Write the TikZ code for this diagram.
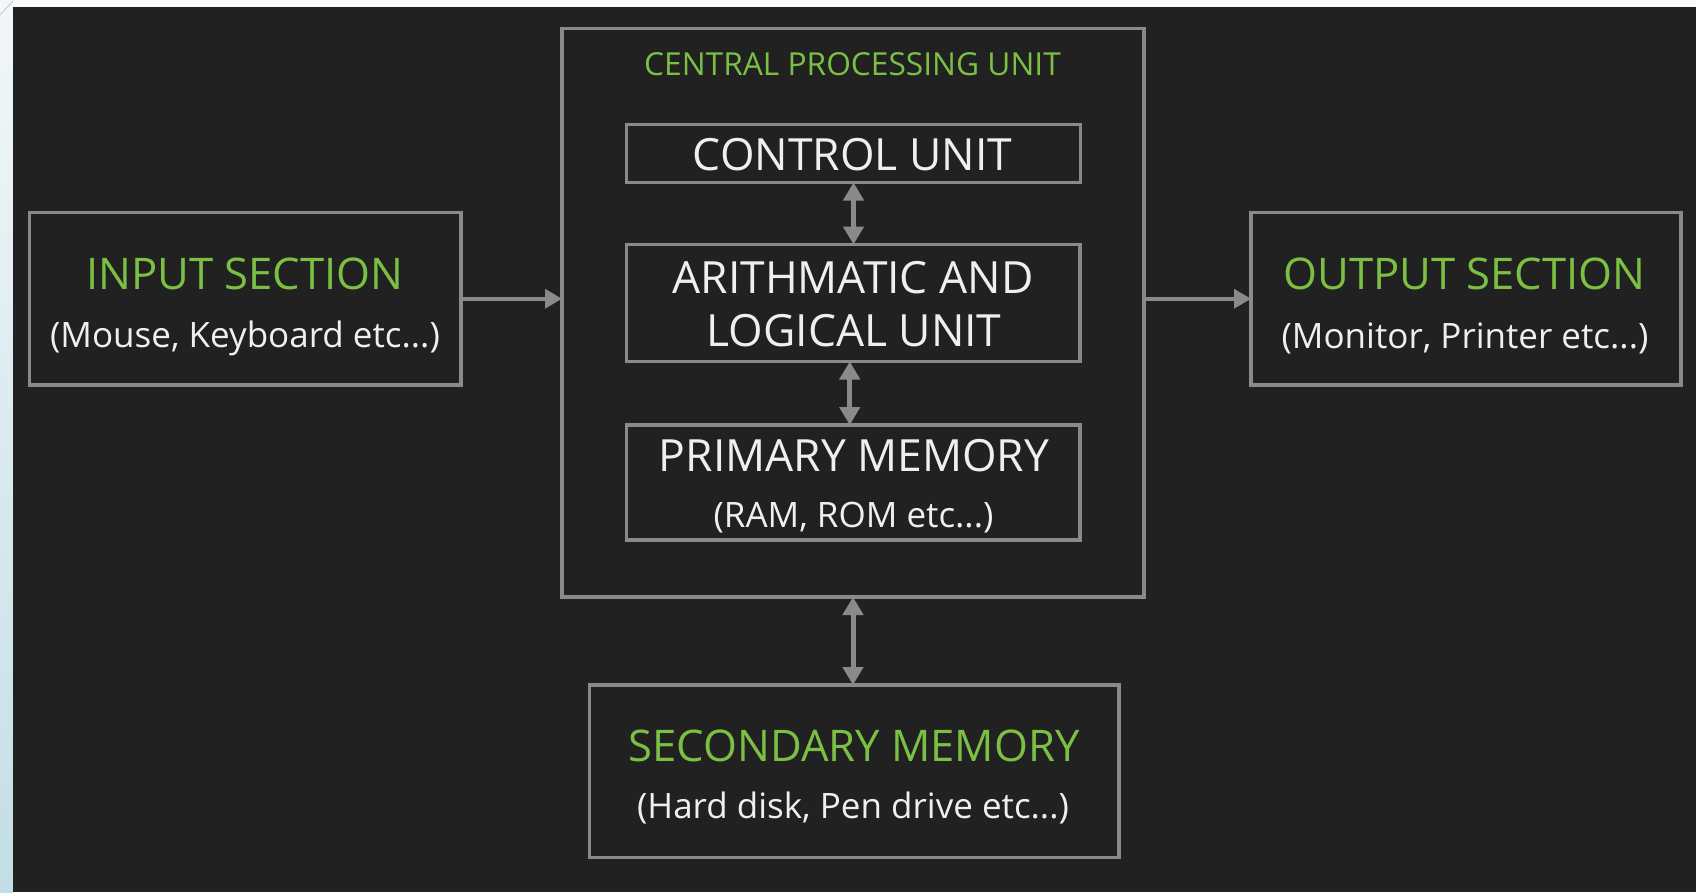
\documentclass[tikz,border=0pt]{standalone}
\usepackage{fontspec}
\setmainfont{Open Sans}
\usetikzlibrary{arrows.meta}
\definecolor{panel}{HTML}{212121}
\definecolor{edge}{HTML}{8A8A8A}
\definecolor{headgreen}{HTML}{7BC043}
\definecolor{bodytext}{HTML}{EFEFEF}
\definecolor{paper}{HTML}{F7F9FB}
\definecolor{sidetop}{HTML}{F2F7F9}
\definecolor{sidebot}{HTML}{C3DEE6}
\tikzset{
  unitbox/.style={draw=edge, line width=3.5pt, inner sep=0pt, outer sep=0pt},
  head/.style={text=headgreen, anchor=base, inner sep=0pt, font=\fontsize{43.6}{50}\selectfont},
  whitehead/.style={text=bodytext, anchor=base, inner sep=0pt, font=\fontsize{44.4}{50}\selectfont},
  sub/.style={text=bodytext, anchor=base, inner sep=0pt, font=\fontsize{35}{40}\selectfont},
  title/.style={text=headgreen, anchor=base, inner sep=0pt, font=\fontsize{31.7}{36}\selectfont},
  flow/.style={draw=edge, line width=3.5pt, -{Triangle[length=17pt,width=19pt]}},
  twoway/.style={draw=edge, line width=5pt, {Triangle[length=18pt,width=20pt]}-{Triangle[length=18pt,width=20pt]}}
}
\begin{document}
\begin{tikzpicture}[x=1pt, y=-1pt]
  \useasboundingbox (0,0) rectangle (1696,892);
  % page backdrop and panel
  \fill[paper] (0,0) rectangle (1696,892);
  \shade[top color=sidetop, bottom color=sidebot] (0,0) rectangle (13,892);
  \draw[black!20, line width=1pt] (0,15) -- (13,1);
  \fill[panel] (13,7) rectangle (1696,892);

  % boxes
  \node[unitbox, minimum width=431.5pt, minimum height=172.5pt] (in)  at (245.25,298.75) {};
  \node[unitbox, minimum width=582pt,   minimum height=568.5pt] (cpu) at (853,312.75) {};
  \node[unitbox, minimum width=454pt,   minimum height=58pt]    (cu)  at (853.5,153.5) {};
  \node[unitbox, minimum width=453.5pt, minimum height=117pt]   (alu) at (853.25,303) {};
  \node[unitbox, minimum width=453.5pt, minimum height=115pt]   (pm)  at (853.25,482.5) {};
  \node[unitbox, minimum width=430pt,   minimum height=172.5pt] (out) at (1466,298.75) {};
  \node[unitbox, minimum width=529.5pt, minimum height=172.5pt] (sm)  at (854.25,771.25) {};

  % labels
  \node[head]  (inhead)  at (245,289) {INPUT SECTION};
  \node[sub]   (insub)   at (245,347) {(Mouse, Keyboard etc...)};
  \node[title] (cputitle) at (852.5,75) {CENTRAL PROCESSING UNIT};
  \node[whitehead] (cutext) at (852.5,170) {CONTROL UNIT};
  \node[whitehead] (alutop) at (853,293.5) {ARITHMATIC AND};
  \node[whitehead] (alubot) at (854,346.5) {LOGICAL UNIT};
  \node[whitehead] (pmhead) at (854,471) {PRIMARY MEMORY};
  \node[sub]   (pmsub)   at (853.5,527) {(RAM, ROM etc...)};
  \node[head]  (outhead) at (1464.5,289) {OUTPUT SECTION};
  \node[sub]   (outsub)  at (1465,348) {(Monitor, Printer etc...)};
  \node[head]  (smhead)  at (854,761.5) {SECONDARY MEMORY};
  \node[sub]   (smsub)   at (853,818) {(Hard disk, Pen drive etc...)};

  % connectors
  \draw[flow] (in.east) -- (in.east -| cpu.west);
  \draw[flow] (out.west -| cpu.east) -- (out.west);
  \draw[twoway] (cu.south) -- (cu.south |- alu.north);
  \draw[twoway] ([xshift=-3.5pt]alu.south) -- ([xshift=-3.5pt]alu.south |- pm.north);
  \draw[twoway] (cpu.south) -- (cpu.south |- sm.north);
\end{tikzpicture}
\end{document}
